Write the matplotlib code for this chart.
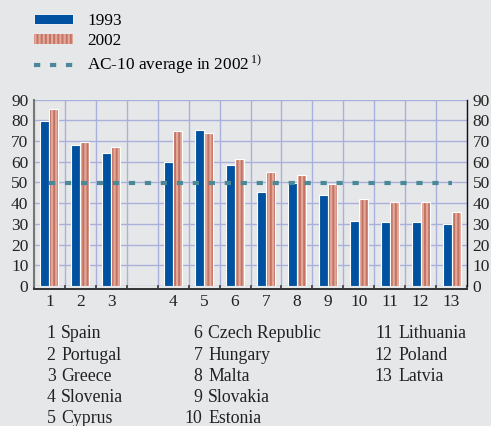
import matplotlib
matplotlib.use("Agg")
import matplotlib.pyplot as plt
from matplotlib.patches import Patch
from matplotlib.lines import Line2D
import numpy as np

plt.rcParams['font.family'] = ['Liberation Serif', 'DejaVu Serif']
plt.rcParams['mathtext.fontset'] = 'custom'
plt.rcParams['mathtext.rm'] = 'Liberation Serif'
plt.rcParams['mathtext.it'] = 'Liberation Serif'
plt.rcParams['hatch.linewidth'] = 1.6
plt.rcParams['lines.scale_dashes'] = False

# ---- data ----
numbers = ['1', '2', '3', '4', '5', '6', '7', '8', '9', '10', '11', '12', '13']
countries = ['Spain', 'Portugal', 'Greece', 'Slovenia', 'Cyprus', 'Czech Republic',
             'Hungary', 'Malta', 'Slovakia', 'Estonia', 'Lithuania', 'Poland', 'Latvia']
slots = [0, 1, 2, 4, 5, 6, 7, 8, 9, 10, 11, 12, 13]   # slot 3 is left empty
v1993 = [79.5, 68.0, 64.0, 60.0, 75.3, 58.3, 45.5, 49.5, 44.0, 31.5, 31.0, 30.7, 30.0]
v2002 = [85.5, 69.3, 67.0, 74.7, 73.7, 61.2, 54.8, 53.4, 49.2, 41.8, 40.7, 40.5, 35.7]
ac10_avg = 49.8
yticks = [0, 10, 20, 30, 40, 50, 60, 70, 80, 90]
legend_labels = ['1993', '2002', 'AC-10 average in 2002$^{\\,1)}$']

BG = '#e6e7e9'
BLUE = '#0052a0'
RED = '#c27364'
RED_LIGHT = '#e3a898'
TEAL = '#4a8a98'
GRID = '#a9b0dc'
TXT = '#222222'

W, H = 491, 426
fig = plt.figure(figsize=(W / 100, H / 100), dpi=100, facecolor=BG)
ax = fig.add_axes([34 / W, 1 - 286 / H, (467 - 34) / W, (286 - 99.5) / H], facecolor=BG)

x = np.array(slots, dtype=float)
bw = 0.29
ax.bar(x - bw / 2, v1993, width=bw, color=BLUE, edgecolor='white', linewidth=0.8, zorder=3)
ax.bar(x + bw / 2, v2002, width=bw, color=RED, edgecolor=RED_LIGHT, linewidth=0,
       hatch='||||', zorder=3)
ax.bar(x + bw / 2, v2002, width=bw, fill=False, edgecolor='white', linewidth=0.8, zorder=4)

ax.plot([slots[0], slots[-1]], [ac10_avg, ac10_avg], color=TEAL, linewidth=3.0,
        dashes=(4.5, 7.0), solid_capstyle='butt', dash_capstyle='butt', zorder=5)

ax.set_xlim(-0.5, 13.5)
ax.set_ylim(0, 90)
ax.set_yticks(yticks)
ax.set_xticks(slots)
ax.set_xticklabels(numbers)
ax.set_xticks(np.arange(-0.5, 14, 1.0), minor=True)
ax.yaxis.grid(True, color=GRID, linewidth=1.0, zorder=0)
ax.xaxis.grid(True, which='minor', color=GRID, linewidth=1.0, zorder=0)
ax.xaxis.grid(False, which='major')
ax.set_axisbelow(True)

ax.tick_params(axis='y', which='both', length=0, labelsize=12.5, pad=4,
               labelleft=True, labelright=True, colors=TXT)
ax.tick_params(axis='x', which='major', length=0, labelsize=12.5, pad=4, colors=TXT)
ax.tick_params(axis='x', which='minor', length=3, width=1.2, direction='in', color='#333333')

ax.spines['top'].set_visible(False)
ax.spines['left'].set_color('#777777')
ax.spines['left'].set_linewidth(1.5)
ax.spines['right'].set_color('#111111')
ax.spines['right'].set_linewidth(1.0)
ax.spines['bottom'].set_color('#333333')
ax.spines['bottom'].set_linewidth(1.4)
ax.spines['bottom'].set_position(('outward', 2))

# legend
handles = [
    Patch(facecolor=BLUE, edgecolor='white', linewidth=0.6),
    Patch(facecolor=RED, edgecolor=RED_LIGHT, linewidth=0, hatch='||||'),
    Line2D([0], [0], color=TEAL, linewidth=3.0, dashes=(4.5, 7.0)),
]
fig.legend(handles, legend_labels, loc='upper left',
           bbox_to_anchor=(34 / W, 1 - 13 / H), frameon=False, fontsize=12.4,
           handlelength=2.25, handleheight=0.5, handletextpad=0.85,
           labelspacing=0.25, borderpad=0, borderaxespad=0)

# country key below
cols = [(0, 5, 61), (5, 10, 208), (10, 13, 398)]
row_y0 = 334
row_dy = 21.2
for start, end, xn in cols:
    for r, i in enumerate(range(start, end)):
        y = 1 - (row_y0 + r * row_dy) / H
        fig.text((xn - 5.5) / W, y, numbers[i], ha='right', va='center', fontsize=12.8, color=TXT)
        fig.text(xn / W, y, countries[i], ha='left', va='center', fontsize=12.8, color=TXT)

fig.savefig('out.png', dpi=100, facecolor=BG)
